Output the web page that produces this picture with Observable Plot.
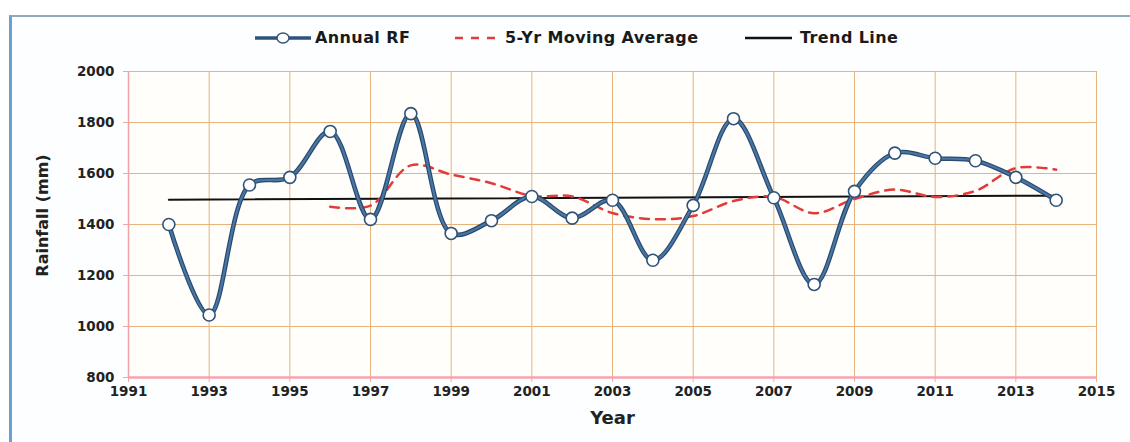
<!DOCTYPE html>
<html>
<head>
<meta charset="utf-8">
<script src="https://cdn.jsdelivr.net/npm/d3@7"></script>
<script src="https://cdn.jsdelivr.net/npm/@observablehq/plot@0.6"></script>
<style>
  html, body { margin: 0; padding: 0; background: #ffffff; width: 1130px; height: 442px; overflow: hidden; }
  #frame { position: absolute; left: 9px; top: 15px; width: 1121px; height: 427px;
           border-left: 3px solid #6aa0d2; border-top: 2px solid #8fa9b8; background: #fcfeff; box-sizing: border-box; }
  #chart { position: absolute; left: 0; top: 50px; }
  .leg { position: absolute; font-family: "DejaVu Sans", sans-serif; font-weight: bold; font-size: 16px;
         letter-spacing: 0.4px; color: #1a1a1a; top: 28px; line-height: 20px; white-space: nowrap; }
  .sw { position: absolute; top: 30px; }
</style>
</head>
<body>
<div id="frame"></div>
<svg class="sw" style="left:254px" width="58" height="16">
  <line x1="1" x2="57" y1="8" y2="8" stroke="#2f5379" stroke-width="3.5"/>
  <ellipse cx="29" cy="8" rx="6" ry="5" fill="#fff" stroke="#2f5379" stroke-width="1.5"/>
</svg>
<div class="leg" style="left:315px">Annual RF</div>
<svg class="sw" style="left:453px" width="50" height="16">
  <line x1="2" x2="48" y1="8" y2="8" stroke="#e23b3b" stroke-width="2.5" stroke-dasharray="8,8"/>
</svg>
<div class="leg" style="left:505px">5-Yr Moving Average</div>
<svg class="sw" style="left:744px" width="50" height="16">
  <line x1="1" x2="48" y1="8" y2="8" stroke="#111" stroke-width="2.5"/>
</svg>
<div class="leg" style="left:800px">Trend Line</div>
<div id="chart"></div>
<script>
// ---- data ----
const years = [1992,1993,1994,1995,1996,1997,1998,1999,2000,2001,2002,2003,2004,2005,2006,2007,2008,2009,2010,2011,2012,2013,2014];
const annualRF = [1400,1045,1555,1585,1765,1420,1835,1365,1415,1510,1425,1495,1260,1475,1815,1505,1165,1530,1680,1660,1650,1585,1495];
const maYears = [1996,1997,1998,1999,2000,2001,2002,2003,2004,2005,2006,2007,2008,2009,2010,2011,2012,2013,2014];
const movingAvg = [1470,1474,1632,1596,1562,1512,1510,1445,1421,1433,1492,1508,1444,1500,1537,1508,1532,1621,1615];
const trendYears = [1992, 2014];
const trendValues = [1497, 1513];
const xTicks = [1991,1993,1995,1997,1999,2001,2003,2005,2007,2009,2011,2013,2015];
const yTicks = [800,1000,1200,1400,1600,1800,2000];
const xDomain = [1991, 2015];
const yDomain = [800, 2000];

const annual = years.map((y, i) => ({year: y, rf: annualRF[i]}));
const ma = maYears.map((y, i) => ({year: y, v: movingAvg[i]}));
const trend = trendYears.map((y, i) => ({year: y, v: trendValues[i]}));

const gridColor = "#e8b27c";
const plot = Plot.plot({
  width: 1130,
  height: 392,
  marginTop: 21,
  marginBottom: 65,
  marginLeft: 128,
  marginRight: 34,
  style: {background: "transparent", fontFamily: "DejaVu Sans, sans-serif", fontSize: "13.5px", color: "#222"},
  x: {domain: xDomain},
  y: {domain: yDomain},
  marks: [
    Plot.frame({fill: "#fffefa", stroke: null}),
    Plot.gridX(xTicks, {stroke: gridColor, strokeOpacity: 1, strokeWidth: 1}),
    Plot.gridY(yTicks, {stroke: gridColor, strokeOpacity: 1, strokeWidth: 1}),
    Plot.axisX(xTicks, {tickFormat: d => String(d), tickSize: 5, tickPadding: 4, stroke: "#eea7a7",
      fill: "#222", fontWeight: "bold", label: "Year", labelAnchor: "center", labelArrow: "none", labelOffset: 46}),
    Plot.axisY(yTicks, {tickFormat: d => String(d), tickSize: 5, tickPadding: 9, stroke: "#eea7a7", fill: "#222", fontWeight: "bold",
      label: "Rainfall (mm)", labelAnchor: "center", labelArrow: "none", labelOffset: 92}),
    Plot.ruleX([xDomain[0]], {stroke: "#f2a2a6", strokeWidth: 1.5}),
    Plot.ruleY([yDomain[0]], {stroke: "#f5a5ae", strokeWidth: 2.5}),
    Plot.line(trend, {x: "year", y: "v", stroke: "#111", strokeWidth: 2}),
    Plot.line(ma, {x: "year", y: "v", curve: "catmull-rom", stroke: "#e23b3b", strokeWidth: 2.5, strokeDasharray: "9,7"}),
    Plot.line(annual, {x: "year", y: "rf", curve: "catmull-rom", stroke: "#284a6f", strokeWidth: 4.6}),
    Plot.line(annual, {x: "year", y: "rf", curve: "catmull-rom", stroke: "#4a76a3", strokeWidth: 2.2}),
    Plot.dot(annual, {x: "year", y: "rf", r: 6, fill: "#ffffff", stroke: "#2f5379", strokeWidth: 1.6})
  ]
});
document.getElementById("chart").appendChild(plot);

// label styling
d3.select(plot).selectAll('g[aria-label="x-axis label"] text')
  .style("font-size", "18px").style("font-weight", "bold");
d3.select(plot).selectAll('g[aria-label="y-axis label"] text')
  .style("font-size", "16px").style("font-weight", "600")
  .attr("transform", function() { return "translate(0,-9) " + (this.getAttribute("transform") || ""); });
</script>
</body>
</html>
